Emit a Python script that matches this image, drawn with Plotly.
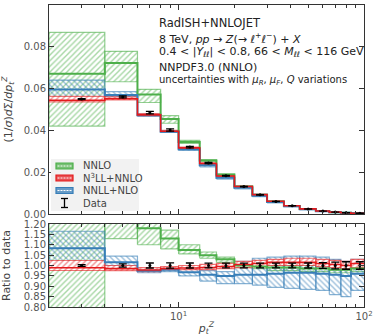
import plotly.graph_objects as go

# bin edges in p_t^Z [GeV]
edges = [2, 4, 6, 8, 10, 13, 16, 20, 25, 30, 37, 45, 55, 65, 75, 85, 105]

# measured normalised distribution and relative error
data = [0.0550, 0.0560, 0.0485, 0.0402, 0.0320, 0.0244, 0.0183, 0.0131, 0.0092,
        0.0060, 0.0039, 0.0024, 0.0014, 0.00090, 0.00062, 0.00037]
data_rel_err = [0.004, 0.008, 0.012, 0.013, 0.012, 0.011, 0.011, 0.011, 0.011,
                0.011, 0.011, 0.012, 0.014, 0.016, 0.018, 0.018]

# predictions as ratio to data: lower, central, upper
nnlo_lo = [0.765, 1.13, 1.10, 1.08, 1.056, 1.035, 1.015, 0.990, 0.985, 0.975, 0.975, 0.970, 0.970, 0.965, 0.965, 0.970]
nnlo_c = [1.22, 1.29, 1.18, 1.13, 1.075, 1.050, 1.030, 1.000, 0.995, 0.990, 0.990, 0.985, 0.985, 0.980, 0.980, 0.985]
nnlo_hi = [1.58, 1.39, 1.23, 1.17, 1.100, 1.065, 1.040, 1.010, 1.005, 1.000, 1.000, 1.000, 1.000, 0.995, 0.995, 1.000]

n3ll_lo = [0.976, 0.975, 0.970, 0.980, 0.980, 0.980, 0.985, 0.990, 0.995, 1.000, 1.000, 1.000, 0.995, 0.990, 0.985, 0.990]
n3ll_c = [0.989, 0.985, 0.978, 0.985, 0.988, 0.990, 0.995, 1.005, 1.010, 1.015, 1.015, 1.015, 1.010, 1.005, 1.000, 1.010]
n3ll_hi = [1.024, 1.000, 0.990, 0.995, 1.000, 1.005, 1.010, 1.020, 1.025, 1.030, 1.035, 1.035, 1.030, 1.025, 1.020, 1.030]

nnll_lo = [1.000, 1.000, 0.965, 0.970, 0.950, 0.925, 0.913, 0.913, 0.905, 0.895, 0.890, 0.885, 0.880, 0.860, 0.850, 0.880]
nnll_c = [1.083, 1.016, 0.975, 0.980, 0.968, 0.955, 0.950, 0.955, 0.955, 0.960, 0.965, 0.965, 0.960, 0.955, 0.950, 0.960]
nnll_hi = [1.165, 1.045, 0.985, 0.990, 0.985, 0.975, 0.970, 1.020, 1.035, 1.040, 1.045, 1.045, 1.040, 1.030, 1.020, 1.030]

GREEN = '#4daf4a'
RED = '#e41a1c'
BLUE = '#377eb8'

# plot area in pixels (left, top, right, bottom)
L, T, R, B = 49, 5, 364, 307


def rgba(hexcol, a):
    h = hexcol.lstrip('#')
    r, g, b = int(h[0:2], 16), int(h[2:4], 16), int(h[4:6], 16)
    return 'rgba(%d,%d,%d,%s)' % (r, g, b, a)


def px(x):
    return (x - L) / (R - L)


def py(y):
    return (B - y) / (B - T)


def boxes(lo, hi):
    xs, ys = [], []
    for i in range(len(lo)):
        a, b = edges[i], edges[i + 1]
        xs += [a, b, b, a, a, None]
        ys += [lo[i], lo[i], hi[i], hi[i], lo[i], None]
    return xs, ys


fig = go.Figure()

# drawing order: NNLO, NNLL+NLO, N3LL+NNLO (red on top with white background)
theories = [
    ('NNLO', GREEN, '/', 'rgba(0,0,0,0)', 2, nnlo_lo, nnlo_c, nnlo_hi),
    ('NNLL+NLO', BLUE, '\\', 'rgba(0,0,0,0)', 2, nnll_lo, nnll_c, nnll_hi),
    ('N3LL+NNLO', RED, '/', 'white', 1.6, n3ll_lo, n3ll_c, n3ll_hi),
]

centers = [(edges[i] + edges[i + 1]) / 2 for i in range(len(data))]

for panel in ['top', 'ratio']:
    xa = 'x' if panel == 'top' else 'x2'
    ya = 'y' if panel == 'top' else 'y2'
    lines = []
    for name, col, hatch, bg, lw, lo, c, hi in theories:
        if panel == 'top':
            lo = [l * d for l, d in zip(lo, data)]
            hi = [h * d for h, d in zip(hi, data)]
            c = [v * d for v, d in zip(c, data)]
        bx, by = boxes(lo, hi)
        fig.add_trace(go.Scatter(
            x=bx, y=by, xaxis=xa, yaxis=ya, mode='lines', fill='toself',
            fillcolor=bg,
            fillpattern=dict(shape=hatch, fgcolor=col, bgcolor=bg,
                             size=4, solidity=0.35),
            line=dict(color=rgba(col, 0.6), width=1.2),
            showlegend=False, hoverinfo='skip'))
        lines.append(go.Scatter(
            x=edges, y=c + [c[-1]], xaxis=xa, yaxis=ya, mode='lines',
            line=dict(color=col, width=lw, shape='hv'),
            showlegend=False, hoverinfo='skip'))
    for ln in lines:
        fig.add_trace(ln)
    if panel == 'top':
        yv = data
        ye = [d * e for d, e in zip(data, data_rel_err)]
    else:
        yv = [1.0] * len(data)
        ye = data_rel_err
    fig.add_trace(go.Scatter(
        x=centers, y=yv, xaxis=xa, yaxis=ya, mode='markers',
        marker=dict(color='black', size=3),
        error_y=dict(type='data', array=ye, color='black', thickness=1.3, width=4),
        showlegend=False, hoverinfo='skip'))

minor_x = [3, 4, 5, 6, 7, 8, 9, 20, 30, 40, 50, 60, 70, 80, 90]
axis_common = dict(showline=True, linecolor='#333', linewidth=1, mirror='allticks',
                   ticks='inside', ticklen=5, tickcolor='#333', showgrid=False,
                   zeroline=False, automargin=False,
                   tickfont=dict(size=10, color='#555'))

fig.update_layout(
    width=375, height=336,
    margin=dict(l=L, r=375 - R, t=T, b=336 - B),
    paper_bgcolor='white', plot_bgcolor='white',
    font=dict(family='DejaVu Sans', color='#444', size=11),
    showlegend=False,
    xaxis=dict(type='log', range=[0.30103, 2], domain=[0, 1], anchor='y',
               tickvals=[10, 100], showticklabels=False,
               minor=dict(tickvals=minor_x, ticks='inside', ticklen=3, tickcolor='#333'),
               **axis_common),
    yaxis=dict(domain=[py(214), 1], anchor='x', range=[0, 0.1], dtick=0.02,
               tickformat='.2f',
               title=dict(text='(1/<i>σ</i>)<i>d</i>Σ/<i>dp</i><sub><i>t</i></sub><sup><i>Z</i></sup>',
                          font=dict(size=11, color='#444'), standoff=10),
               **axis_common),
    xaxis2=dict(type='log', range=[0.30103, 2], domain=[0, 1], anchor='y2',
                tickvals=[10, 100], ticktext=['10<sup>1</sup>', '10<sup>2</sup>'],
                minor=dict(tickvals=minor_x, ticks='inside', ticklen=3, tickcolor='#333'),
                title=dict(text='<i>p</i><sub><i>t</i></sub><sup><i>Z</i></sup>',
                           font=dict(size=11, color='#444'), standoff=3),
                **axis_common),
    yaxis2=dict(domain=[0, py(224)], anchor='x2', range=[0.8, 1.2], dtick=0.05,
                tickformat='.2f',
                title=dict(text='Ratio to data', font=dict(size=11, color='#444'), standoff=10),
                **axis_common),
)

# information text
info = [
    ('RadISH+NNLOJET', 23, 11.5),
    ('8 TeV, <i>pp</i> → <i>Z</i>(→ <i>ℓ</i><sup>+</sup><i>ℓ</i><sup>−</sup>) + <i>X</i>', 38, 11),
    ('0.4 &lt; |<i>Y</i><sub><i>ℓℓ</i></sub>| &lt; 0.8, 66 &lt; <i>M</i><sub><i>ℓℓ</i></sub> &lt; 116 GeV', 52, 11),
    ('NNPDF3.0 (NNLO)', 67, 11),
    ('uncertainties with <i>μ</i><sub><i>R</i></sub>, <i>μ</i><sub><i>F</i></sub>, <i>Q</i> variations', 81, 10),
]
for txt, yy, fs in info:
    fig.add_annotation(text=txt, xref='paper', yref='paper', x=px(157), y=py(yy),
                       xanchor='left', yanchor='middle', showarrow=False,
                       font=dict(size=fs, color='#222'))

# legend drawn by hand
fig.add_shape(type='rect', xref='paper', yref='paper', x0=px(51), x1=px(139),
              y0=py(211), y1=py(159), fillcolor='#f2f2f2', line=dict(width=0), layer='above')
legend_items = [('NNLO', GREEN, 166), ('N<sup>3</sup>LL+NNLO', RED, 178), ('NNLL+NLO', BLUE, 190.5)]
for label, col, yy in legend_items:
    fig.add_shape(type='rect', xref='paper', yref='paper', x0=px(56), x1=px(73),
                  y0=py(yy + 3), y1=py(yy - 3), fillcolor=rgba(col, 0.75),
                  line=dict(color=col, width=1.2), layer='above')
    fig.add_shape(type='line', xref='paper', yref='paper', x0=px(57.5), x1=px(72),
                  y0=py(yy), y1=py(yy), line=dict(color='white', width=1, dash='2px,1px'),
                  layer='above')
    fig.add_annotation(text=label, xref='paper', yref='paper', x=px(81), y=py(yy),
                       xanchor='left', yanchor='middle', showarrow=False,
                       font=dict(size=10, color='#444'))
# data symbol
fig.add_shape(type='line', xref='paper', yref='paper', x0=px(64.5), x1=px(64.5),
              y0=py(207.5), y1=py(198.5), line=dict(color='black', width=1.3), layer='above')
for cy in (198.5, 207.5):
    fig.add_shape(type='line', xref='paper', yref='paper', x0=px(61), x1=px(68),
                  y0=py(cy), y1=py(cy), line=dict(color='black', width=1.3), layer='above')
fig.add_annotation(text='Data', xref='paper', yref='paper', x=px(81), y=py(203),
                   xanchor='left', yanchor='middle', showarrow=False,
                   font=dict(size=10, color='#444'))

fig.write_html('out.html', config={'displayModeBar': False},
               post_script="document.body.style.margin='0px';")
